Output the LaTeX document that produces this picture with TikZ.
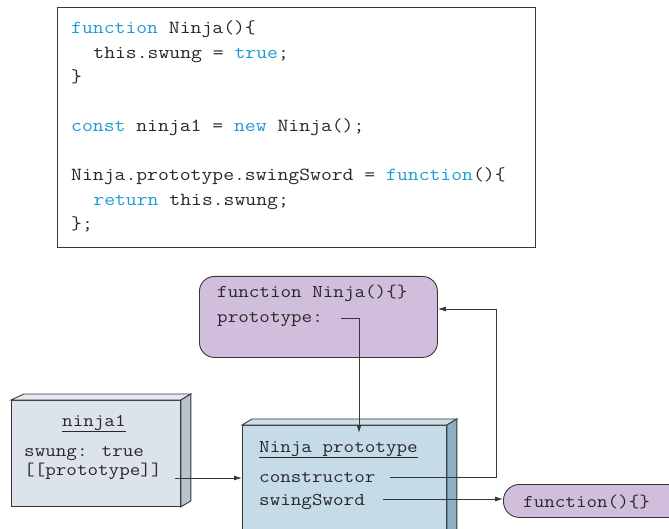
\documentclass[tikz,border=0pt]{standalone}
\usepackage{fontspec}
\newfontfamily\cour[FakeStretch=1.14]{Latin Modern Mono}
\usetikzlibrary{arrows.meta}
\definecolor{kw}{RGB}{30,155,212}
\definecolor{txt}{RGB}{40,40,40}
\definecolor{edge}{RGB}{55,55,55}
\definecolor{purp}{RGB}{209,190,221}
\definecolor{bluefront}{RGB}{197,219,231}
\definecolor{bluetop}{RGB}{205,224,234}
\definecolor{blueside}{RGB}{142,176,196}
\definecolor{grayfront}{RGB}{221,227,234}
\definecolor{graytop}{RGB}{228,232,238}
\definecolor{grayside}{RGB}{183,196,206}
\begin{document}
\begin{tikzpicture}[x=1pt,y=-1pt,
  code/.style={anchor=base west,inner sep=0pt,text=txt,font=\cour\fontsize{18.5}{20}\selectfont},
  lbl/.style={anchor=base west,inner sep=0pt,text=txt,font=\cour\fontsize{18}{20}\selectfont},
  conn/.style={draw=edge,line width=0.9pt},
  arr/.style={conn,-{Latex[length=8pt,width=5pt]}},
  face/.style={draw=edge,line width=0.9pt}
]
\useasboundingbox (0,0) rectangle (669,529);
\clip (0,0) rectangle (669,529);

% code box
\node[draw=edge,line width=1pt,anchor=north west,inner sep=0pt,minimum width=478pt,minimum height=240pt] (codebox) at (57,7) {};
\node[code] (c1) at (71,34) {\textcolor{kw}{function} Ninja()\{};
\node[code] (c2) at (93.2,58.5) {this.swung = \textcolor{kw}{true};};
\node[code] (c3) at (71,83) {\}};
\node[code] (c4) at (71,132) {\textcolor{kw}{const} ninja1 = \textcolor{kw}{new} Ninja();};
\node[code] (c5) at (71,181) {Ninja.prototype.swingSword = \textcolor{kw}{function}()\{};
\node[code] (c6) at (93.2,205.5) {\textcolor{kw}{return} this.swung;};
\node[code] (c7) at (71,230) {\};};

% Ninja function box
\node[face,fill=purp,rounded corners=15pt,anchor=north west,inner sep=0pt,minimum width=238pt,minimum height=81pt] (fnbox) at (199,276) {};
\node[lbl] (fn1) at (217,298) {function Ninja()\{\}};
\node[lbl] (fn2) at (217,322) {prototype:};
\coordinate (protoStart) at (341,318);
\coordinate (protoBend) at (359,318);

% ninja1 3D box
\node[face,fill=grayfront,anchor=north west,inner sep=0pt,minimum width=169pt,minimum height=106pt] (n1) at (11,400) {};
\filldraw[face,fill=graytop] (n1.north west) -- ++(13,-6) -- ([xshift=10pt,yshift=6pt]n1.north east) -- (n1.north east) -- cycle;
\filldraw[face,fill=grayside] (n1.north east) -- ++(10,-6) -- ([xshift=10pt,yshift=6pt]n1.south east) -- (n1.south east) -- cycle;
\node[lbl] (n1title) at (62,426) {\underline{ninja1}};
\node[lbl] (n1a) at (24,456) {swung: true};
\node[lbl] (n1b) at (24,475) {[[prototype]]};
\coordinate (n1arr) at (175,478);

% Ninja prototype 3D box
\node[face,fill=bluefront,anchor=north west,inner sep=0pt,minimum width=204pt,minimum height=130pt] (np) at (242,425) {};
\filldraw[face,fill=bluetop] (np.north west) -- ++(10,-6) -- ([xshift=10pt,yshift=6pt]np.north east) -- (np.north east) -- cycle;
\filldraw[face,fill=blueside] (np.north east) -- ++(10,-6) -- ([xshift=10pt,yshift=6pt]np.south east) -- (np.south east) -- cycle;
\node[lbl] (nptitle) at (259,452) {\underline{Ninja prototype}};
\node[lbl] (npc) at (259,482) {constructor};
\node[lbl] (nps) at (259,505) {swingSword};
\coordinate (ctorStart) at (390,477);
\coordinate (ctorBend1) at (496,477);
\coordinate (ctorBend2) at (496,309);
\coordinate (swStart) at (383,499);

% function(){} pill
\node[face,fill=purp,rounded corners=16pt,anchor=north west,inner sep=0pt,minimum width=200pt,minimum height=33pt] (pill) at (503,484) {};
\node[lbl] (pilltxt) at (523,507) {function()\{\}};

% connectors
\draw[arr] (protoStart) -- (protoBend) -- ([yshift=-8pt]np.north -| protoBend);
\draw[arr] (ctorStart) -- (ctorBend1) -- (ctorBend2) -- (ctorBend2 -| fnbox.east);
\draw[arr] (n1arr) -- (n1arr -| np.west);
\draw[arr] (swStart) -- (swStart -| pill.west);
\end{tikzpicture}
\end{document}
